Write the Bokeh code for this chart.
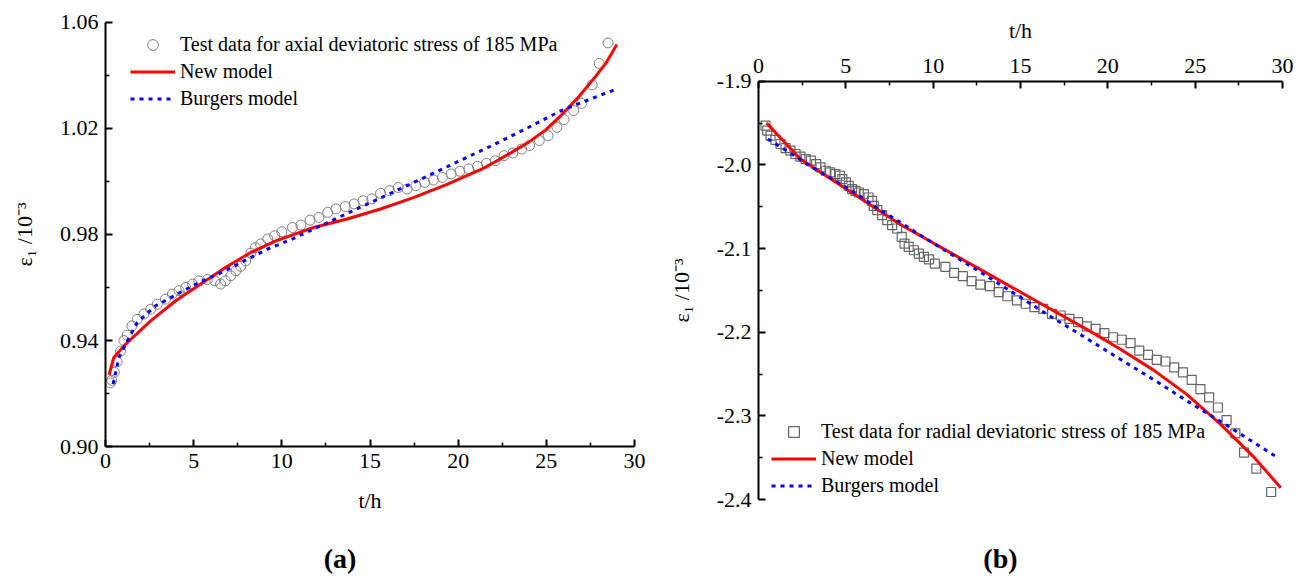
from bokeh.plotting import figure
from bokeh.models import Range1d, FixedTicker, PrintfTickFormatter, Legend, LegendItem, Label
from bokeh.layouts import row
from bokeh.embed import file_html
from bokeh.resources import INLINE

FONT = "Liberation Serif"

# ---------------- Panel (a): axial ----------------
t_test_a = [0.28, 0.35, 0.5, 0.66, 0.85, 1.04, 1.23, 1.5, 1.8, 2.18, 2.56, 2.94, 3.4, 3.79, 4.17,
            4.55, 4.93, 5.3, 5.78, 6.2, 6.53, 6.8, 7.1, 7.4, 7.67, 7.95, 8.24, 8.5, 8.8, 9.2, 9.6,
            10.0, 10.6, 11.08, 11.6, 12.1, 12.6, 13.07, 13.6, 14.1, 14.6, 15.1, 15.6, 16.1, 16.6,
            17.1, 17.6, 18.1, 18.6, 19.1, 19.6, 20.1, 20.6, 21.1, 21.6, 22.1, 22.6, 23.1, 23.6,
            24.05, 24.6, 25.1, 25.6, 26.0, 26.55, 27.0, 27.6, 28.0, 28.5]
e_test_a = [0.924, 0.925, 0.928, 0.932, 0.936, 0.940, 0.942, 0.9455, 0.948, 0.950, 0.9518, 0.9537,
            0.9556, 0.9575, 0.9588, 0.960, 0.9613, 0.9625, 0.963, 0.9625, 0.9613, 0.9625, 0.9644,
            0.9663, 0.968, 0.970, 0.973, 0.975, 0.9764, 0.9783, 0.9795, 0.981, 0.9826, 0.9835,
            0.9854, 0.9864, 0.9883, 0.9896, 0.9905, 0.9915, 0.9927, 0.9934, 0.9955, 0.9965, 0.9977,
            0.9971, 0.9984, 0.9996, 1.0005, 1.0015, 1.0028, 1.0038, 1.0047, 1.0057, 1.0068, 1.0078,
            1.0097, 1.0107, 1.0122, 1.0135, 1.0154, 1.0172, 1.0204, 1.0233, 1.0267, 1.0294, 1.0364,
            1.0445, 1.0522]

t_new_a = [0.2, 0.47, 1.14, 2.56, 3.98, 5.4, 6.8, 8.24, 9.66, 11.8, 13.7, 15.6, 17.5, 19.4, 20.2,
           21.3, 22.1, 23.0, 24.0, 25.0, 25.85, 26.8, 27.75, 28.4, 29.0]
e_new_a = [0.927, 0.9336, 0.9386, 0.9474, 0.955, 0.9613, 0.9675, 0.9732, 0.9776, 0.9826, 0.9858,
           0.9896, 0.994, 0.999, 1.0013, 1.0045, 1.0074, 1.0108, 1.0148, 1.0196, 1.0250, 1.0316,
           1.0392, 1.0448, 1.0516]

t_bur_a = [0.43, 0.76, 1.14, 1.8, 2.84, 4.07, 5.3, 6.6, 8.05, 9.2, 10.6, 12.6, 15.25, 17.3, 19.3,
           20.7, 22.1, 24.0, 25.85, 27.75, 29.0]
e_bur_a = [0.9236, 0.9336, 0.9386, 0.9468, 0.9531, 0.9575, 0.9619, 0.9657, 0.9707, 0.9745, 0.9783,
           0.9845, 0.9927, 0.999, 1.0053, 1.0097, 1.0141, 1.0204, 1.0267, 1.0317, 1.0349]

# ---------------- Panel (b): radial ----------------
t_test_b = [0.4, 0.5, 0.69, 0.97, 1.26, 1.55, 1.83, 2.12, 2.4, 2.7, 3.0, 3.3, 3.55, 3.85, 4.1, 4.4,
            4.66, 4.8, 5.0, 5.17, 5.36, 5.55, 5.74, 6.03, 6.3, 6.5, 6.6, 6.8, 7.08, 7.37, 7.65, 7.94,
            8.2, 8.36, 8.6, 8.9, 9.18, 9.47, 9.76, 10.1, 10.7, 11.2, 11.7, 12.2, 12.7, 13.25, 13.75,
            14.25, 14.8, 15.3, 15.8, 16.3, 16.8, 17.3, 17.8, 18.3, 18.8, 19.3, 19.8, 20.3, 20.8,
            21.3, 21.8, 22.3, 22.8, 23.3, 23.8, 24.3, 24.8, 25.3, 25.8, 26.3, 26.8, 27.3, 27.8,
            28.5, 29.35]
e_test_b = [-1.953, -1.959, -1.965, -1.970, -1.975, -1.980, -1.983, -1.987, -1.990, -1.993, -1.995,
            -1.999, -2.003, -2.007, -2.009, -2.011, -2.013, -2.017, -2.021, -2.025, -2.029, -2.031,
            -2.033, -2.035, -2.039, -2.043, -2.049, -2.054, -2.060, -2.066, -2.072, -2.076, -2.086,
            -2.094, -2.098, -2.102, -2.106, -2.110, -2.113, -2.118, -2.122, -2.129, -2.133, -2.139,
            -2.143, -2.145, -2.152, -2.157, -2.162, -2.166, -2.170, -2.172, -2.178, -2.180, -2.184,
            -2.188, -2.193, -2.196, -2.201, -2.206, -2.209, -2.213, -2.222, -2.227, -2.233, -2.235,
            -2.242, -2.248, -2.257, -2.268, -2.278, -2.290, -2.305, -2.321, -2.344, -2.363, -2.391]

t_new_b = [0.46, 2.4, 4.3, 6.2, 8.1, 10.4, 13.3, 16.1, 19.0, 20.7, 22.6, 24.5, 26.4, 28.35, 29.9]
e_new_b = [-1.950, -1.993, -2.019, -2.045, -2.071, -2.098, -2.132, -2.165, -2.199, -2.220, -2.245,
           -2.274, -2.309, -2.349, -2.386]

t_bur_b = [0.53, 1.83, 3.07, 4.4, 5.65, 6.8, 8.0, 9.27, 10.5, 13.0, 14.9, 16.7, 18.6, 20.3, 22.8,
           24.6, 26.4, 28.3, 29.65]
e_bur_b = [-1.969, -1.986, -2.003, -2.019, -2.035, -2.052, -2.067, -2.084, -2.100, -2.132, -2.157,
           -2.181, -2.205, -2.227, -2.259, -2.283, -2.306, -2.331, -2.349]

# ---------------- ticks and texts ----------------
t_ticks = [0, 5, 10, 15, 20, 25, 30]
t_minor = [2.5, 7.5, 12.5, 17.5, 22.5, 27.5]
ya_ticks = [0.90, 0.94, 0.98, 1.02, 1.06]
ya_minor = [0.92, 0.96, 1.00, 1.04]
yb_ticks = [-2.4, -2.3, -2.2, -2.1, -2.0, -1.9]
yb_minor = [-2.35, -2.25, -2.15, -2.05, -1.95]

x_label = "t/h"
y_label = "ε₁ /10⁻³"
legend_a = ["Test data for axial deviatoric stress of 185 MPa", "New model", "Burgers model"]
legend_b = ["Test data for radial deviatoric stress of 185 MPa", "New model", "Burgers model"]
panel_a = "(a)"
panel_b = "(b)"

H = 575


def style_axis(ax, label_standoff, axis_label_standoff):
    ax.axis_line_width = 2
    ax.axis_line_color = "black"
    ax.major_tick_line_width = 2
    ax.minor_tick_line_width = 1.5
    ax.major_tick_in = 7
    ax.major_tick_out = 0
    ax.minor_tick_in = 4
    ax.minor_tick_out = 0
    ax.major_label_text_font = FONT
    ax.major_label_text_font_size = "22px"
    ax.major_label_text_color = "black"
    ax.major_label_standoff = label_standoff
    ax.axis_label_text_font = FONT
    ax.axis_label_text_font_size = "22px"
    ax.axis_label_text_font_style = "normal"
    ax.axis_label_text_color = "black"
    ax.axis_label_standoff = axis_label_standoff


def base_style(p):
    p.outline_line_color = None
    p.xgrid.visible = False
    p.ygrid.visible = False
    p.background_fill_color = "white"
    p.border_fill_color = "white"


def add_legend(p, names, r1, r2, r3, loc):
    lg = Legend(items=[LegendItem(label=names[0], renderers=[r1]),
                       LegendItem(label=names[1], renderers=[r2]),
                       LegendItem(label=names[2], renderers=[r3])],
                location=loc)
    lg.label_text_font = FONT
    lg.label_text_font_size = "20px"
    lg.label_text_color = "black"
    lg.glyph_width = 45
    lg.glyph_height = 27
    lg.label_height = 27
    lg.label_standoff = 5
    lg.spacing = 0
    lg.padding = 0
    lg.margin = 0
    lg.border_line_color = None
    lg.background_fill_alpha = 0
    p.add_layout(lg)


def panel_label(p, text, x):
    p.add_layout(Label(x=x, y=17, x_units="data", y_units="screen", text=text,
                       text_font=FONT, text_font_size="28px", text_font_style="bold",
                       text_color="black", text_align="center", text_baseline="middle"))


# ---------- left figure (axes fixed inside the frame) ----------
p1 = figure(width=652, height=H, x_range=Range1d(-5.955, 31.02), y_range=Range1d(0.8514, 1.0682),
            output_backend="svg", toolbar_location=None,
            min_border_left=0, min_border_right=0, min_border_top=0, min_border_bottom=0)
base_style(p1)
p1.xaxis.ticker = FixedTicker(ticks=t_ticks, minor_ticks=t_minor)
p1.yaxis.ticker = FixedTicker(ticks=ya_ticks, minor_ticks=ya_minor)
p1.yaxis.formatter = PrintfTickFormatter(format="%.2f")
p1.xaxis.bounds = (t_ticks[0], t_ticks[-1])
p1.yaxis.bounds = (ya_ticks[0], ya_ticks[-1])
p1.xaxis.fixed_location = ya_ticks[0]
p1.yaxis.fixed_location = t_ticks[0]
p1.xaxis.axis_label = x_label
p1.yaxis.axis_label = y_label
style_axis(p1.xaxis[0], 7, 17)
style_axis(p1.yaxis[0], 7, 20)

ra1 = p1.scatter(t_test_a, e_test_a, marker="circle", size=10, fill_color=None,
                 line_color="#808080", line_width=1)
ra2 = p1.line(t_new_a, e_new_a, line_color="#ff0000", line_width=3)
ra3 = p1.line(t_bur_a, e_bur_a, line_color="#0000ff", line_width=3, line_dash="4 5")
add_legend(p1, legend_a, ra1, ra2, ra3, (130, 463))
panel_label(p1, panel_a, 13.3)

# ---------- right figure (axes fixed inside the frame) ----------
p2 = figure(width=648, height=H, x_range=Range1d(-6.069, 31.03), y_range=Range1d(-2.4908, -1.8035),
            x_axis_location="above", output_backend="svg", toolbar_location=None,
            min_border_left=0, min_border_right=0, min_border_top=0, min_border_bottom=0)
base_style(p2)
p2.xaxis.ticker = FixedTicker(ticks=t_ticks, minor_ticks=t_minor)
p2.yaxis.ticker = FixedTicker(ticks=yb_ticks, minor_ticks=yb_minor)
p2.yaxis.formatter = PrintfTickFormatter(format="%.1f")
p2.xaxis.bounds = (t_ticks[0], t_ticks[-1])
p2.yaxis.bounds = (yb_ticks[0], yb_ticks[-1])
p2.xaxis.fixed_location = yb_ticks[-1]
p2.yaxis.fixed_location = t_ticks[0]
p2.xaxis.axis_label = x_label
p2.yaxis.axis_label = y_label
style_axis(p2.xaxis[0], 8, 14)
style_axis(p2.yaxis[0], 7, 20)

rb1 = p2.scatter(t_test_b, e_test_b, marker="square", size=9, fill_color=None,
                 line_color="#666666", line_width=1.2)
rb2 = p2.line(t_new_b, e_new_b, line_color="#ff0000", line_width=3)
rb3 = p2.line(t_bur_b, e_bur_b, line_color="#0000ff", line_width=3, line_dash="4 5")
add_legend(p2, legend_b, rb1, rb2, rb3, (119, 76))
panel_label(p2, panel_b, 13.85)

layout = row(p1, p2)
open("out.html", "w").write(file_html(layout, INLINE))
